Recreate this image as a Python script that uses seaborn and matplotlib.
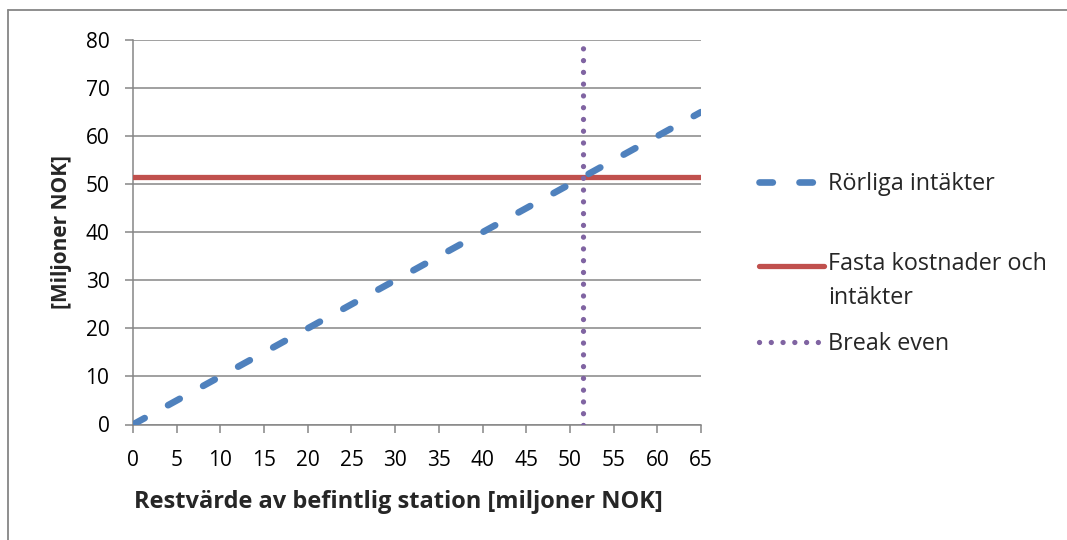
import matplotlib
matplotlib.use("Agg")
import matplotlib.pyplot as plt
import seaborn as sns
import pandas as pd
from matplotlib.lines import Line2D

# ---- data ----
x_values = [0, 65]
rorliga = [0, 65]
fasta_x = [0, 65]
fasta = [51.5, 51.5]
break_x = [51.5, 51.5]
break_y = [0, 79]
x_ticks = list(range(0, 70, 5))
y_ticks = list(range(0, 90, 10))
labels = ["Rörliga intäkter", "Fasta kostnader och\nintäkter", "Break even"]
xlabel = "Restvärde av befintlig station [miljoner NOK]"
ylabel = "[Miljoner NOK]"

sns.set_theme(style="white")
plt.rcParams['font.family'] = ['Open Sans', 'DejaVu Sans']
TICK_FS = 15
LEG_FS = 16.8

blue = "#4F81BD"
red = "#C0504D"
purple = "#8064A2"
grey = "#868686"

W, H = 1067, 540
fig = plt.figure(figsize=(W / 100, H / 100), dpi=100)
ax = fig.add_axes([133/W, 1 - 424.5/H, (701-133)/W, (424.5-40)/H])

df1 = pd.DataFrame({"x": x_values, "y": rorliga})
df2 = pd.DataFrame({"x": fasta_x, "y": fasta})
df3 = pd.DataFrame({"x": break_x, "y": break_y})

sns.lineplot(data=df2, x="x", y="y", ax=ax, color=red, lw=3.8, label=labels[1],
             solid_capstyle="round", zorder=3)
sns.lineplot(data=df1, x="x", y="y", ax=ax, color=blue, lw=4.8, label=labels[0],
             zorder=4)
sns.lineplot(data=df3, x="x", y="y", ax=ax, color=purple, lw=3.8, label=labels[2],
             zorder=5, orient="y")

l_red, l_blue, l_purple = ax.get_lines()[:3]
l_blue.set_dashes((2.0, 4.0))
l_blue.set_dash_capstyle("round")
l_purple.set_dashes((0.01, 2.22))
l_purple.set_dash_capstyle("round")

ax.set_xlim(0, 65)
ax.set_ylim(0, 80)
ax.set_xticks(x_ticks)
ax.set_yticks(y_ticks)
ax.yaxis.grid(True, color=grey, lw=1.1)
ax.xaxis.grid(False)
for s in ["top", "right"]:
    ax.spines[s].set_visible(False)
for s in ["left", "bottom"]:
    ax.spines[s].set_color(grey)
    ax.spines[s].set_linewidth(1.1)
ax.tick_params(axis="both", direction="out", length=6, width=1.1, color=grey,
               labelsize=TICK_FS, labelcolor="black", left=True, bottom=True)
ax.tick_params(axis="y", pad=11)
ax.tick_params(axis="x", pad=12)
ax.set_xlabel(xlabel, fontsize=17, fontweight="bold")
ax.set_ylabel(ylabel, fontsize=15, fontweight="bold")
ax.xaxis.set_label_coords((398 - 133) / 568, (424.5 - 490) / 384.5)
ax.yaxis.set_label_coords((72 - 133) / 568, 0.5)

ax.get_legend().remove()

# legend entries (one legend per entry, to reproduce the uneven spacing)
def add_entry(handle, label, y_px, loc):
    lg = fig.legend([handle], [label], loc=loc,
                    bbox_to_anchor=(759 / W, 1 - y_px / H), frameon=False,
                    fontsize=LEG_FS, handlelength=2.8, handletextpad=0.15,
                    borderpad=0, borderaxespad=0)
    return lg

add_entry(l_blue, labels[0], 184.5, "center left")
lg2 = add_entry(l_red, labels[1], 252, "upper left")
for t in lg2.get_texts():
    t.set_linespacing(1.55)
# align the red handle with the first line of its two-line label
red_handle = lg2.get_lines()[0]
red_handle.set_ydata([y + 11.5 for y in red_handle.get_ydata()])
add_entry(l_purple, labels[2], 344, "center left")

# figure border (top + left)
fig.add_artist(Line2D([7.5/W, 7.5/W], [0, 1 - 10/H], transform=fig.transFigure,
                      color=grey, lw=1.3))
fig.add_artist(Line2D([7.5/W, 1], [1 - 10/H, 1 - 10/H], transform=fig.transFigure,
                      color=grey, lw=1.3))

fig.savefig("out.png", dpi=100)
